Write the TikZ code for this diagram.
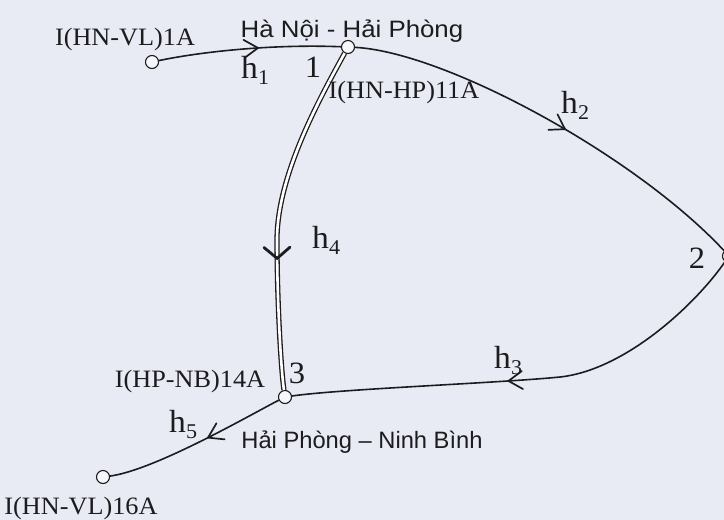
\documentclass[tikz,border=0pt]{standalone}
\usepackage{graphicx}
\usepackage{fontspec}
\setmainfont{Liberation Serif}[FakeStretch=1.05]
\newfontfamily\arialf{Liberation Sans}
\usetikzlibrary{decorations.markings}
\definecolor{bg}{RGB}{232,235,244}
\definecolor{ink}{RGB}{28,28,30}
\newcommand\hsub[1]{h\raisebox{-0.2em}{\fontsize{21}{21}\selectfont #1}}
\begin{document}
\begin{tikzpicture}[x=1pt,y=-1pt,
  station/.style={circle,draw=ink,line width=1.1pt,fill=white!60!bg,minimum size=13pt,inner sep=0pt},
  conn/.style={draw=ink,line width=1.6pt},
  dbl/.style={draw=ink,line width=1.3pt,double=white,double distance=2.6pt},
  lbl/.style={font=\fontsize{25}{25}\selectfont,text=ink,inner sep=0pt,anchor=base},
  sanslbl/.style={font=\arialf\fontsize{23.7}{24}\selectfont,text=ink,inner sep=0pt,anchor=base},
  num/.style={font=\fontsize{31}{31}\selectfont,text=ink,inner sep=0pt,anchor=base},
  hl/.style={font=\fontsize{32}{32}\selectfont,text=ink,inner sep=0pt,anchor=base west},
  barbmark/.style={decoration={markings,mark=at position #1 with {\draw[ink,line width=1.7pt,line cap=round,line join=miter] (-14pt,9pt) -- (0pt,0pt) -- (-14pt,-9pt);}},postaction={decorate}},
  bigbarb/.style={decoration={markings,mark=at position #1 with {\draw[ink,line width=2.8pt,line cap=round,line join=miter] (-11pt,13pt) -- (0pt,0pt) -- (-11pt,-13pt);}},postaction={decorate}},
]
\fill[bg] (0,0) rectangle (724,520);
\useasboundingbox (0,0) rectangle (724,520);

% stations
\node[station] (A) at (152,62) {};
\node[station] (n1) at (348,47) {};
\node[station] (n2) at (729,256) {};
\node[station] (n3) at (285,397) {};
\node[station] (B) at (103,477) {};

% connectors
\path[conn,barbmark=100pt] (A) .. controls (200,52) and (270,44) .. (n1);
\path[conn,barbmark=227pt] (n1) .. controls (445,52) and (635,155) .. (n2);
\path[conn,barbmark=258pt] (n2) .. controls (695,305) and (625,370) .. (560,377) .. controls (500,383) and (340,389) .. (n3);
\path[conn,barbmark=80pt] (n3) .. controls (250,415) and (155,470) .. (B);
\draw[dbl] (n1) .. controls (320,98) and (277,175) .. (277,240) .. controls (277,300) and (281,370) .. (n3);
\path[bigbarb=219pt] (n1) .. controls (320,98) and (277,175) .. (277,240) .. controls (277,300) and (281,370) .. (n3);

% texts
\node[lbl] (t1) at (125,45) {I(HN-VL)1A};
\node[sanslbl] (t2) at (352,37) {\scalebox{1.09}[1]{Hà Nội - Hải Phòng}};
\node[lbl] (t3) at (404,98) {I(HN-HP)11A};
\node[lbl] (t4) at (190,387) {I(HP-NB)14A};
\node[lbl] (t5) at (81,514) {I(HN-VL)16A};
\node[sanslbl] (t6) at (362,448) {Hải Phòng – Ninh Bình};

\node[num] (l1) at (313,77) {1};
\node[num] (l2) at (697,268) {2};
\node[num] (l3) at (297,383) {3};

\node[hl] (h1) at (241,78) {\hsub{1}};
\node[hl] (h2) at (561,113) {\hsub{2}};
\node[hl] (h3) at (494,368) {\hsub{3}};
\node[hl] (h4) at (312,248) {\hsub{4}};
\node[hl] (h5) at (169,432) {\hsub{5}};
\end{tikzpicture}
\end{document}
